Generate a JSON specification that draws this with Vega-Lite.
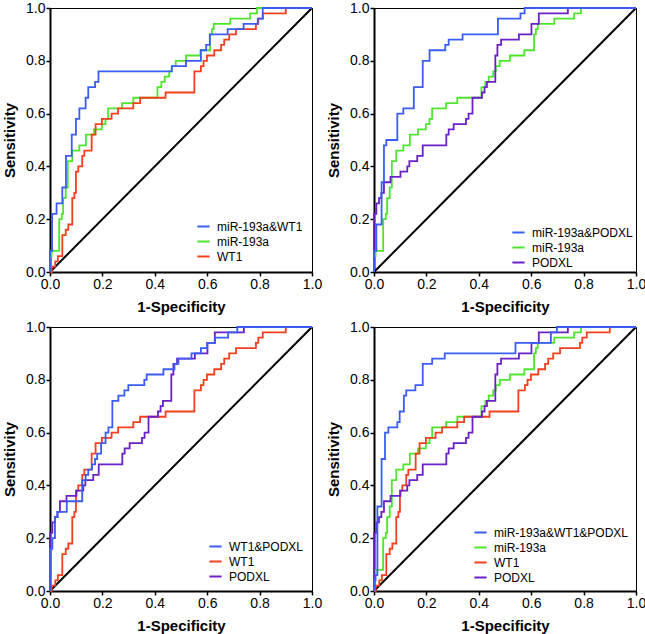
{
"$schema": "https://vega.github.io/schema/vega-lite/v6.json",
"padding": {"left": 2, "top": 0, "right": 0, "bottom": 0},
"data": {"values": [
{"curve":"ref","fpr":0,"tpr":0},{"curve":"ref","fpr":1,"tpr":1},
{"curve":"miR-193a","fpr":0,"tpr":0},{"curve":"miR-193a","fpr":0,"tpr":0.06},{"curve":"miR-193a","fpr":0.006,"tpr":0.08},{"curve":"miR-193a","fpr":0.035,"tpr":0.2},{"curve":"miR-193a","fpr":0.045,"tpr":0.22},{"curve":"miR-193a","fpr":0.05,"tpr":0.28},{"curve":"miR-193a","fpr":0.06,"tpr":0.32},{"curve":"miR-193a","fpr":0.068,"tpr":0.42},{"curve":"miR-193a","fpr":0.085,"tpr":0.46},{"curve":"miR-193a","fpr":0.112,"tpr":0.48},{"curve":"miR-193a","fpr":0.137,"tpr":0.52},{"curve":"miR-193a","fpr":0.168,"tpr":0.54},{"curve":"miR-193a","fpr":0.198,"tpr":0.56},{"curve":"miR-193a","fpr":0.212,"tpr":0.58},{"curve":"miR-193a","fpr":0.222,"tpr":0.62},{"curve":"miR-193a","fpr":0.275,"tpr":0.64},{"curve":"miR-193a","fpr":0.318,"tpr":0.66},{"curve":"miR-193a","fpr":0.41,"tpr":0.7},{"curve":"miR-193a","fpr":0.425,"tpr":0.72},{"curve":"miR-193a","fpr":0.438,"tpr":0.74},{"curve":"miR-193a","fpr":0.455,"tpr":0.76},{"curve":"miR-193a","fpr":0.465,"tpr":0.78},{"curve":"miR-193a","fpr":0.48,"tpr":0.8},{"curve":"miR-193a","fpr":0.519,"tpr":0.82},{"curve":"miR-193a","fpr":0.574,"tpr":0.84},{"curve":"miR-193a","fpr":0.611,"tpr":0.9},{"curve":"miR-193a","fpr":0.618,"tpr":0.92},{"curve":"miR-193a","fpr":0.625,"tpr":0.94},{"curve":"miR-193a","fpr":0.688,"tpr":0.96},{"curve":"miR-193a","fpr":0.764,"tpr":0.98},{"curve":"miR-193a","fpr":0.79,"tpr":1},{"curve":"miR-193a","fpr":1,"tpr":1},
{"curve":"WT1","fpr":0,"tpr":0},{"curve":"WT1","fpr":0.006,"tpr":0.02},{"curve":"WT1","fpr":0.02,"tpr":0.04},{"curve":"WT1","fpr":0.03,"tpr":0.06},{"curve":"WT1","fpr":0.047,"tpr":0.14},{"curve":"WT1","fpr":0.06,"tpr":0.16},{"curve":"WT1","fpr":0.07,"tpr":0.18},{"curve":"WT1","fpr":0.085,"tpr":0.28},{"curve":"WT1","fpr":0.093,"tpr":0.3},{"curve":"WT1","fpr":0.099,"tpr":0.38},{"curve":"WT1","fpr":0.108,"tpr":0.4},{"curve":"WT1","fpr":0.123,"tpr":0.44},{"curve":"WT1","fpr":0.131,"tpr":0.46},{"curve":"WT1","fpr":0.159,"tpr":0.52},{"curve":"WT1","fpr":0.174,"tpr":0.56},{"curve":"WT1","fpr":0.198,"tpr":0.58},{"curve":"WT1","fpr":0.235,"tpr":0.6},{"curve":"WT1","fpr":0.26,"tpr":0.62},{"curve":"WT1","fpr":0.318,"tpr":0.64},{"curve":"WT1","fpr":0.344,"tpr":0.66},{"curve":"WT1","fpr":0.441,"tpr":0.68},{"curve":"WT1","fpr":0.551,"tpr":0.76},{"curve":"WT1","fpr":0.576,"tpr":0.78},{"curve":"WT1","fpr":0.586,"tpr":0.8},{"curve":"WT1","fpr":0.599,"tpr":0.82},{"curve":"WT1","fpr":0.627,"tpr":0.84},{"curve":"WT1","fpr":0.653,"tpr":0.86},{"curve":"WT1","fpr":0.665,"tpr":0.88},{"curve":"WT1","fpr":0.684,"tpr":0.9},{"curve":"WT1","fpr":0.71,"tpr":0.92},{"curve":"WT1","fpr":0.786,"tpr":0.94},{"curve":"WT1","fpr":0.795,"tpr":0.96},{"curve":"WT1","fpr":0.812,"tpr":0.98},{"curve":"WT1","fpr":0.9,"tpr":1},{"curve":"WT1","fpr":1,"tpr":1},
{"curve":"PODXL","fpr":0,"tpr":0},{"curve":"PODXL","fpr":0,"tpr":0.22},{"curve":"PODXL","fpr":0.009,"tpr":0.26},{"curve":"PODXL","fpr":0.019,"tpr":0.28},{"curve":"PODXL","fpr":0.028,"tpr":0.3},{"curve":"PODXL","fpr":0.038,"tpr":0.34},{"curve":"PODXL","fpr":0.063,"tpr":0.36},{"curve":"PODXL","fpr":0.101,"tpr":0.38},{"curve":"PODXL","fpr":0.127,"tpr":0.4},{"curve":"PODXL","fpr":0.135,"tpr":0.42},{"curve":"PODXL","fpr":0.165,"tpr":0.44},{"curve":"PODXL","fpr":0.186,"tpr":0.48},{"curve":"PODXL","fpr":0.276,"tpr":0.52},{"curve":"PODXL","fpr":0.285,"tpr":0.54},{"curve":"PODXL","fpr":0.304,"tpr":0.56},{"curve":"PODXL","fpr":0.351,"tpr":0.58},{"curve":"PODXL","fpr":0.361,"tpr":0.6},{"curve":"PODXL","fpr":0.376,"tpr":0.66},{"curve":"PODXL","fpr":0.412,"tpr":0.68},{"curve":"PODXL","fpr":0.422,"tpr":0.7},{"curve":"PODXL","fpr":0.431,"tpr":0.72},{"curve":"PODXL","fpr":0.463,"tpr":0.82},{"curve":"PODXL","fpr":0.471,"tpr":0.86},{"curve":"PODXL","fpr":0.485,"tpr":0.88},{"curve":"PODXL","fpr":0.553,"tpr":0.9},{"curve":"PODXL","fpr":0.601,"tpr":0.94},{"curve":"PODXL","fpr":0.629,"tpr":0.98},{"curve":"PODXL","fpr":0.74,"tpr":1},{"curve":"PODXL","fpr":1,"tpr":1},
{"curve":"miR-193a&WT1","fpr":0,"tpr":0},{"curve":"miR-193a&WT1","fpr":0,"tpr":0.08},{"curve":"miR-193a&WT1","fpr":0.008,"tpr":0.22},{"curve":"miR-193a&WT1","fpr":0.025,"tpr":0.26},{"curve":"miR-193a&WT1","fpr":0.047,"tpr":0.32},{"curve":"miR-193a&WT1","fpr":0.061,"tpr":0.44},{"curve":"miR-193a&WT1","fpr":0.083,"tpr":0.52},{"curve":"miR-193a&WT1","fpr":0.099,"tpr":0.58},{"curve":"miR-193a&WT1","fpr":0.112,"tpr":0.62},{"curve":"miR-193a&WT1","fpr":0.136,"tpr":0.66},{"curve":"miR-193a&WT1","fpr":0.146,"tpr":0.7},{"curve":"miR-193a&WT1","fpr":0.172,"tpr":0.72},{"curve":"miR-193a&WT1","fpr":0.185,"tpr":0.76},{"curve":"miR-193a&WT1","fpr":0.465,"tpr":0.78},{"curve":"miR-193a&WT1","fpr":0.519,"tpr":0.8},{"curve":"miR-193a&WT1","fpr":0.576,"tpr":0.84},{"curve":"miR-193a&WT1","fpr":0.596,"tpr":0.86},{"curve":"miR-193a&WT1","fpr":0.61,"tpr":0.9},{"curve":"miR-193a&WT1","fpr":0.678,"tpr":0.92},{"curve":"miR-193a&WT1","fpr":0.739,"tpr":0.94},{"curve":"miR-193a&WT1","fpr":0.793,"tpr":0.96},{"curve":"miR-193a&WT1","fpr":0.812,"tpr":1},{"curve":"miR-193a&WT1","fpr":1,"tpr":1},
{"curve":"miR-193a&PODXL","fpr":0,"tpr":0},{"curve":"miR-193a&PODXL","fpr":0,"tpr":0.08},{"curve":"miR-193a&PODXL","fpr":0.009,"tpr":0.18},{"curve":"miR-193a&PODXL","fpr":0.029,"tpr":0.34},{"curve":"miR-193a&PODXL","fpr":0.038,"tpr":0.48},{"curve":"miR-193a&PODXL","fpr":0.047,"tpr":0.5},{"curve":"miR-193a&PODXL","fpr":0.089,"tpr":0.6},{"curve":"miR-193a&PODXL","fpr":0.112,"tpr":0.62},{"curve":"miR-193a&PODXL","fpr":0.152,"tpr":0.7},{"curve":"miR-193a&PODXL","fpr":0.186,"tpr":0.8},{"curve":"miR-193a&PODXL","fpr":0.212,"tpr":0.84},{"curve":"miR-193a&PODXL","fpr":0.272,"tpr":0.86},{"curve":"miR-193a&PODXL","fpr":0.285,"tpr":0.88},{"curve":"miR-193a&PODXL","fpr":0.338,"tpr":0.9},{"curve":"miR-193a&PODXL","fpr":0.473,"tpr":0.96},{"curve":"miR-193a&PODXL","fpr":0.559,"tpr":0.98},{"curve":"miR-193a&PODXL","fpr":0.575,"tpr":1},{"curve":"miR-193a&PODXL","fpr":1,"tpr":1},
{"curve":"WT1&PODXL","fpr":0,"tpr":0},{"curve":"WT1&PODXL","fpr":0,"tpr":0.16},{"curve":"WT1&PODXL","fpr":0.009,"tpr":0.2},{"curve":"WT1&PODXL","fpr":0.019,"tpr":0.28},{"curve":"WT1&PODXL","fpr":0.029,"tpr":0.3},{"curve":"WT1&PODXL","fpr":0.064,"tpr":0.34},{"curve":"WT1&PODXL","fpr":0.123,"tpr":0.42},{"curve":"WT1&PODXL","fpr":0.136,"tpr":0.44},{"curve":"WT1&PODXL","fpr":0.146,"tpr":0.46},{"curve":"WT1&PODXL","fpr":0.16,"tpr":0.48},{"curve":"WT1&PODXL","fpr":0.172,"tpr":0.5},{"curve":"WT1&PODXL","fpr":0.18,"tpr":0.52},{"curve":"WT1&PODXL","fpr":0.195,"tpr":0.56},{"curve":"WT1&PODXL","fpr":0.212,"tpr":0.6},{"curve":"WT1&PODXL","fpr":0.223,"tpr":0.62},{"curve":"WT1&PODXL","fpr":0.238,"tpr":0.72},{"curve":"WT1&PODXL","fpr":0.261,"tpr":0.74},{"curve":"WT1&PODXL","fpr":0.284,"tpr":0.76},{"curve":"WT1&PODXL","fpr":0.299,"tpr":0.78},{"curve":"WT1&PODXL","fpr":0.36,"tpr":0.8},{"curve":"WT1&PODXL","fpr":0.369,"tpr":0.82},{"curve":"WT1&PODXL","fpr":0.433,"tpr":0.84},{"curve":"WT1&PODXL","fpr":0.475,"tpr":0.86},{"curve":"WT1&PODXL","fpr":0.49,"tpr":0.88},{"curve":"WT1&PODXL","fpr":0.54,"tpr":0.9},{"curve":"WT1&PODXL","fpr":0.576,"tpr":0.92},{"curve":"WT1&PODXL","fpr":0.6,"tpr":0.94},{"curve":"WT1&PODXL","fpr":0.63,"tpr":0.96},{"curve":"WT1&PODXL","fpr":0.68,"tpr":0.98},{"curve":"WT1&PODXL","fpr":0.715,"tpr":1},{"curve":"WT1&PODXL","fpr":1,"tpr":1},
{"curve":"miR-193a&WT1&PODXL","fpr":0,"tpr":0},{"curve":"miR-193a&WT1&PODXL","fpr":0,"tpr":0.04},{"curve":"miR-193a&WT1&PODXL","fpr":0.006,"tpr":0.06},{"curve":"miR-193a&WT1&PODXL","fpr":0.013,"tpr":0.32},{"curve":"miR-193a&WT1&PODXL","fpr":0.029,"tpr":0.5},{"curve":"miR-193a&WT1&PODXL","fpr":0.042,"tpr":0.6},{"curve":"miR-193a&WT1&PODXL","fpr":0.055,"tpr":0.62},{"curve":"miR-193a&WT1&PODXL","fpr":0.089,"tpr":0.64},{"curve":"miR-193a&WT1&PODXL","fpr":0.098,"tpr":0.68},{"curve":"miR-193a&WT1&PODXL","fpr":0.114,"tpr":0.74},{"curve":"miR-193a&WT1&PODXL","fpr":0.123,"tpr":0.76},{"curve":"miR-193a&WT1&PODXL","fpr":0.158,"tpr":0.78},{"curve":"miR-193a&WT1&PODXL","fpr":0.186,"tpr":0.86},{"curve":"miR-193a&WT1&PODXL","fpr":0.222,"tpr":0.88},{"curve":"miR-193a&WT1&PODXL","fpr":0.27,"tpr":0.9},{"curve":"miR-193a&WT1&PODXL","fpr":0.54,"tpr":0.94},{"curve":"miR-193a&WT1&PODXL","fpr":0.675,"tpr":0.98},{"curve":"miR-193a&WT1&PODXL","fpr":0.698,"tpr":1},{"curve":"miR-193a&WT1&PODXL","fpr":1,"tpr":1}
]},
"columns": 2,
"spacing": {"row": 55, "column": 62},
"bounds": "flush",
"resolve": {"scale": {"color": "independent"}, "legend": {"color": "independent"}},
"concat": [
  {"width": 262, "height": 264, "layer": [
   {"transform": [{"filter": "datum.curve === 'ref'"}], "mark": {"type": "line", "color": "black", "strokeWidth": 2},
    "encoding": {"x": {"field": "fpr", "type": "quantitative", "scale": {"domain": [0, 1], "nice": false}, "axis": {"values": [0, 0.2, 0.4, 0.6, 0.8, 1], "format": ".1f", "title": "1-Specificity"}},
                 "y": {"field": "tpr", "type": "quantitative", "scale": {"domain": [0, 1], "nice": false}, "axis": {"values": [0, 0.2, 0.4, 0.6, 0.8, 1], "format": ".1f", "title": "Sensitivity"}}}},
   {"transform": [{"filter": {"field": "curve", "oneOf": ["miR-193a&WT1", "miR-193a", "WT1"]}}], "mark": {"type": "line", "interpolate": "step-after", "strokeWidth": 1.8},
    "encoding": {"x": {"field": "fpr", "type": "quantitative", "scale": {"domain": [0, 1], "nice": false}, "axis": {"values": [0, 0.2, 0.4, 0.6, 0.8, 1], "format": ".1f", "title": "1-Specificity"}},
                 "y": {"field": "tpr", "type": "quantitative", "scale": {"domain": [0, 1], "nice": false}, "axis": {"values": [0, 0.2, 0.4, 0.6, 0.8, 1], "format": ".1f", "title": "Sensitivity"}},
                 "order": [{"field": "fpr"}, {"field": "tpr"}],
                 "color": {"field": "curve", "type": "nominal", "scale": {"domain": ["miR-193a&WT1", "miR-193a", "WT1"], "range": ["#3b5cf5", "#4fe52f", "#f2401f"]}, "legend": {"title": null, "offset": 9}}}}
  ]},
  {"width": 262, "height": 264, "layer": [
   {"transform": [{"filter": "datum.curve === 'ref'"}], "mark": {"type": "line", "color": "black", "strokeWidth": 2},
    "encoding": {"x": {"field": "fpr", "type": "quantitative", "scale": {"domain": [0, 1], "nice": false}, "axis": {"values": [0, 0.2, 0.4, 0.6, 0.8, 1], "format": ".1f", "title": "1-Specificity"}},
                 "y": {"field": "tpr", "type": "quantitative", "scale": {"domain": [0, 1], "nice": false}, "axis": {"values": [0, 0.2, 0.4, 0.6, 0.8, 1], "format": ".1f", "title": "Sensitivity"}}}},
   {"transform": [{"filter": {"field": "curve", "oneOf": ["miR-193a&PODXL", "miR-193a", "PODXL"]}}], "mark": {"type": "line", "interpolate": "step-after", "strokeWidth": 1.8},
    "encoding": {"x": {"field": "fpr", "type": "quantitative", "scale": {"domain": [0, 1], "nice": false}, "axis": {"values": [0, 0.2, 0.4, 0.6, 0.8, 1], "format": ".1f", "title": "1-Specificity"}},
                 "y": {"field": "tpr", "type": "quantitative", "scale": {"domain": [0, 1], "nice": false}, "axis": {"values": [0, 0.2, 0.4, 0.6, 0.8, 1], "format": ".1f", "title": "Sensitivity"}},
                 "order": [{"field": "fpr"}, {"field": "tpr"}],
                 "color": {"field": "curve", "type": "nominal", "scale": {"domain": ["miR-193a&PODXL", "miR-193a", "PODXL"], "range": ["#3b5cf5", "#4fe52f", "#6a22c8"]}, "legend": {"title": null, "offset": 3}}}}
  ]},
  {"width": 262, "height": 264, "layer": [
   {"transform": [{"filter": "datum.curve === 'ref'"}], "mark": {"type": "line", "color": "black", "strokeWidth": 2},
    "encoding": {"x": {"field": "fpr", "type": "quantitative", "scale": {"domain": [0, 1], "nice": false}, "axis": {"values": [0, 0.2, 0.4, 0.6, 0.8, 1], "format": ".1f", "title": "1-Specificity"}},
                 "y": {"field": "tpr", "type": "quantitative", "scale": {"domain": [0, 1], "nice": false}, "axis": {"values": [0, 0.2, 0.4, 0.6, 0.8, 1], "format": ".1f", "title": "Sensitivity"}}}},
   {"transform": [{"filter": {"field": "curve", "oneOf": ["WT1&PODXL", "WT1", "PODXL"]}}], "mark": {"type": "line", "interpolate": "step-after", "strokeWidth": 1.8},
    "encoding": {"x": {"field": "fpr", "type": "quantitative", "scale": {"domain": [0, 1], "nice": false}, "axis": {"values": [0, 0.2, 0.4, 0.6, 0.8, 1], "format": ".1f", "title": "1-Specificity"}},
                 "y": {"field": "tpr", "type": "quantitative", "scale": {"domain": [0, 1], "nice": false}, "axis": {"values": [0, 0.2, 0.4, 0.6, 0.8, 1], "format": ".1f", "title": "Sensitivity"}},
                 "order": [{"field": "fpr"}, {"field": "tpr"}],
                 "color": {"field": "curve", "type": "nominal", "scale": {"domain": ["WT1&PODXL", "WT1", "PODXL"], "range": ["#3b5cf5", "#f2401f", "#6a22c8"]}, "legend": {"title": null, "offset": 8}}}}
  ]},
  {"width": 262, "height": 264, "layer": [
   {"transform": [{"filter": "datum.curve === 'ref'"}], "mark": {"type": "line", "color": "black", "strokeWidth": 2},
    "encoding": {"x": {"field": "fpr", "type": "quantitative", "scale": {"domain": [0, 1], "nice": false}, "axis": {"values": [0, 0.2, 0.4, 0.6, 0.8, 1], "format": ".1f", "title": "1-Specificity"}},
                 "y": {"field": "tpr", "type": "quantitative", "scale": {"domain": [0, 1], "nice": false}, "axis": {"values": [0, 0.2, 0.4, 0.6, 0.8, 1], "format": ".1f", "title": "Sensitivity"}}}},
   {"transform": [{"filter": {"field": "curve", "oneOf": ["miR-193a&WT1&PODXL", "miR-193a", "WT1", "PODXL"]}}], "mark": {"type": "line", "interpolate": "step-after", "strokeWidth": 1.8},
    "encoding": {"x": {"field": "fpr", "type": "quantitative", "scale": {"domain": [0, 1], "nice": false}, "axis": {"values": [0, 0.2, 0.4, 0.6, 0.8, 1], "format": ".1f", "title": "1-Specificity"}},
                 "y": {"field": "tpr", "type": "quantitative", "scale": {"domain": [0, 1], "nice": false}, "axis": {"values": [0, 0.2, 0.4, 0.6, 0.8, 1], "format": ".1f", "title": "Sensitivity"}},
                 "order": [{"field": "fpr"}, {"field": "tpr"}],
                 "color": {"field": "curve", "type": "nominal", "scale": {"domain": ["miR-193a&WT1&PODXL", "miR-193a", "WT1", "PODXL"], "range": ["#3b5cf5", "#4fe52f", "#f2401f", "#6a22c8"]}, "legend": {"title": null, "offset": 7}}}}
  ]}
],
"config": {
 "font": "Liberation Sans",
 "view": {"stroke": "black", "strokeWidth": 1},
 "axis": {"grid": false, "domainColor": "black", "domainWidth": 2, "tickColor": "black", "tickWidth": 1.5, "tickSize": 4, "labelFontSize": 14, "labelColor": "black", "labelPadding": 1, "titleFontSize": 15, "titleFontWeight": "bold", "titleColor": "black", "titlePadding": 8, "labelFlush": false, "zindex": 1},
 "legend": {"orient": "bottom-right", "symbolType": "stroke", "symbolStrokeWidth": 2, "symbolSize": 150, "labelFontSize": 12, "labelColor": "black", "rowPadding": 1, "padding": 0, "labelOffset": 6}
}
}
